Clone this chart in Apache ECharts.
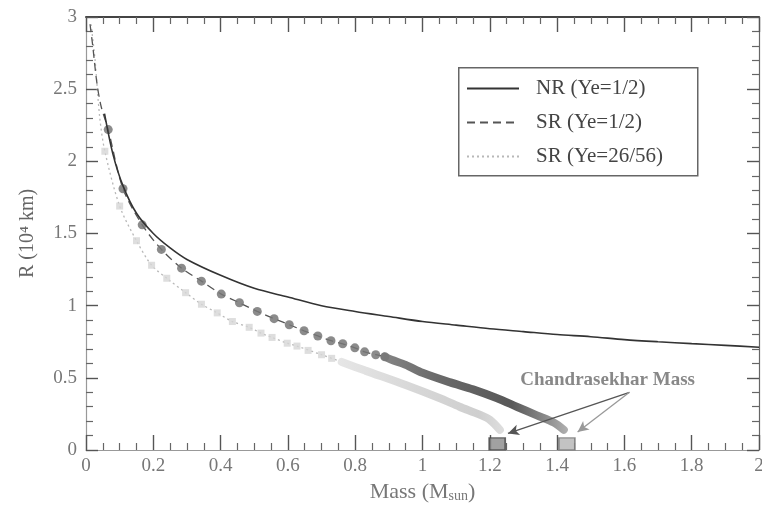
<!DOCTYPE html>
<html>
<head>
<meta charset="utf-8">
<script src="https://cdn.jsdelivr.net/npm/echarts@6/dist/echarts.min.js"></script>
<style>html,body{margin:0;padding:0;background:#fff}#c{width:762px;height:510px}</style>
</head>
<body>
<div id="c"></div>
<script>
// ---- data ----
var xTickLabels = ['0','0.2','0.4','0.6','0.8','1','1.2','1.4','1.6','1.8','2'];
var yTickLabels = ['0','0.5','1','1.5','2','2.5','3'];

var nrMass = [0.055,0.08,0.11,0.15,0.2,0.25,0.3,0.4,0.5,0.6,0.7,0.8,0.9,1.0,1.1,1.2,1.3,1.4,1.5,1.6,1.7,1.8,1.9,2.0];
var nrR    = [2.33,2.05,1.83,1.64,1.50,1.40,1.32,1.21,1.12,1.06,1.00,0.96,0.925,0.89,0.865,0.84,0.82,0.80,0.785,0.765,0.75,0.737,0.725,0.712];

var sr12Mass = [0.012,0.02,0.032,0.045,0.066,0.11,0.167,0.224,0.284,0.343,0.402,0.456,0.509,0.559,0.604,0.648,0.689,0.728,0.763,0.799,0.828,0.861,0.888,0.908,0.95,1.0,1.08,1.15,1.22,1.28,1.34,1.39,1.42];
var sr12R    = [2.95,2.8,2.55,2.38,2.22,1.81,1.56,1.39,1.26,1.17,1.08,1.02,0.96,0.91,0.868,0.826,0.79,0.757,0.736,0.708,0.68,0.66,0.646,0.625,0.59,0.535,0.47,0.42,0.36,0.30,0.24,0.19,0.14];
var sr12DotMass = [0.066,0.11,0.167,0.224,0.284,0.343,0.402,0.456,0.509,0.559,0.604,0.648,0.689,0.728,0.763,0.799,0.828,0.861,0.888];
var sr12DotR    = [2.22,1.81,1.56,1.39,1.26,1.17,1.08,1.02,0.96,0.91,0.868,0.826,0.79,0.757,0.736,0.708,0.68,0.66,0.646];
var sr12BandMass = [0.888,0.908,0.95,1.0,1.08,1.15,1.22,1.28,1.34,1.39,1.42];
var sr12BandR    = [0.646,0.625,0.59,0.535,0.47,0.42,0.36,0.30,0.24,0.19,0.14];

var sr26Mass = [0.015,0.027,0.041,0.056,0.10,0.15,0.195,0.24,0.296,0.343,0.39,0.435,0.485,0.52,0.553,0.598,0.627,0.70,0.76,0.83,0.95,1.05,1.11,1.17,1.20,1.23];
var sr26R    = [2.95,2.7,2.3,2.07,1.69,1.45,1.28,1.19,1.09,1.01,0.95,0.89,0.85,0.81,0.78,0.74,0.72,0.66,0.61,0.55,0.45,0.36,0.30,0.245,0.21,0.14];
var sr26DotMass = [0.056,0.10,0.15,0.195,0.24,0.296,0.343,0.39,0.435,0.485,0.52,0.553,0.598,0.627,0.66,0.70,0.73];
var sr26DotR    = [2.07,1.69,1.45,1.28,1.19,1.09,1.01,0.95,0.89,0.85,0.81,0.78,0.74,0.72,0.69,0.66,0.635];
var sr26BandMass = [0.76,0.83,0.95,1.05,1.11,1.17,1.20,1.23];
var sr26BandR    = [0.61,0.55,0.45,0.36,0.30,0.245,0.21,0.14];

var chMass = [1.222, 1.429];
var chR    = [0.042, 0.042];
var arrowFrom = [1.615, 0.40];
var arrowTo1  = [1.254, 0.115];
var arrowTo2  = [1.461, 0.125];
var noteAt    = [1.55, 0.486];

function zip(a, b) { return a.map(function (v, i) { return [v, b[i]]; }); }

var serif = 'Liberation Serif';
var chart = echarts.init(document.getElementById('c'), null, {renderer: 'canvas'});

// labelled axes (no ticks)
var xLabelAxis = {
  type: 'value', position: 'bottom', min: 0, max: 2, interval: 0.2,
  axisLine: {show: true, onZero: false, lineStyle: {color: '#999', width: 1.2}},
  axisTick: {show: false}, splitLine: {show: false},
  axisLabel: {show: true, margin: 7, color: '#777', fontFamily: serif, fontSize: 19,
    formatter: function (v) { return xTickLabels[Math.round(v / 0.2)]; }},
  name: 'Mass (M{sub|sun})', nameLocation: 'middle', nameGap: 27,
  nameTextStyle: {fontFamily: serif, fontSize: 22, color: '#777',
    rich: {sub: {fontFamily: serif, fontSize: 14, color: '#777', verticalAlign: 'bottom'}}}
};
var yLabelAxis = {
  type: 'value', position: 'left', min: 0, max: 3, interval: 0.5,
  axisLine: {show: true, onZero: false, lineStyle: {color: '#999', width: 1.2}},
  axisTick: {show: false}, splitLine: {show: false},
  axisLabel: {show: true, margin: 9, color: '#777', fontFamily: serif, fontSize: 19,
    formatter: function (v) { return yTickLabels[Math.round(v / 0.5)]; }},
  name: 'R (10\u2074 km)', nameLocation: 'middle', nameGap: 48,
  nameTextStyle: {fontFamily: serif, fontSize: 20, color: '#666'}
};
// tick-only axes
function xTickAxis(pos) {
  return {
    type: 'value', position: pos, min: 0, max: 2, interval: 0.2,
    axisLine: {show: pos === 'top', onZero: false, lineStyle: {color: '#444', width: 2}},
    axisTick: {show: true, inside: true, length: 15, lineStyle: {color: '#555', width: 1.4}},
    minorTick: {show: true, splitNumber: 4, length: 7, lineStyle: {color: '#666', width: 1.2}},
    splitLine: {show: false},
    axisLabel: {show: false}
  };
}
function yTickAxis(pos) {
  return {
    type: 'value', position: pos, min: 0, max: 3, interval: 0.5,
    axisLine: {show: pos === 'right', onZero: false, lineStyle: {color: '#666', width: 1.2}},
    axisTick: {show: true, inside: true, length: 12, lineStyle: {color: '#555', width: 1.4}},
    minorTick: {show: true, splitNumber: 5, length: 7, lineStyle: {color: '#666', width: 1.2}},
    splitLine: {show: false},
    axisLabel: {show: false}
  };
}

var option = {
  animation: false,
  backgroundColor: '#fff',
  grid: {left: 86, right: 3, top: 17, bottom: 60, outerBoundsMode: 'none'},
  xAxis: [xLabelAxis, xTickAxis('top'), xTickAxis('bottom')],
  yAxis: [yLabelAxis, yTickAxis('right'), yTickAxis('left')],
  legend: {
    orient: 'vertical', left: 466, top: 78, padding: 0, itemGap: 13,
    itemWidth: 52, itemHeight: 14,
    itemStyle: {opacity: 0},
    textStyle: {fontFamily: serif, fontSize: 21, color: '#444', padding: [0, 0, 0, 12]},
    data: ['NR (Ye=1/2)', 'SR (Ye=1/2)', 'SR (Ye=26/56)']
  },
  graphic: [{
    type: 'rect', left: 458, top: 67, silent: true,
    shape: {width: 239, height: 108},
    style: {fill: 'rgba(0,0,0,0)', stroke: '#666', lineWidth: 1.5}
  }],
  series: [
    {name: 'SR (Ye=26/56)', type: 'line', data: zip(sr26Mass, sr26R), symbol: 'none', smooth: 0.3,
      lineStyle: {color: '#b8b8b8', width: 1.3, type: [2, 3]}, itemStyle: {color: '#b8b8b8'}, z: 2},
    {name: 'sr26band', type: 'line', data: zip(sr26BandMass, sr26BandR), symbol: 'none', smooth: 0.3,
      lineStyle: {width: 8, cap: 'round', color: new echarts.graphic.LinearGradient(0, 0, 1, 0, [
        {offset: 0, color: '#e6e6e6'}, {offset: 0.5, color: '#d6d6d6'}, {offset: 0.85, color: '#cfcfcf'}, {offset: 1, color: '#dedede'}])}, z: 2},
    {name: 'sr26dots', type: 'scatter', data: zip(sr26DotMass, sr26DotR), symbol: 'rect', symbolSize: 7,
      itemStyle: {color: '#d6d6d6'}, z: 3},
    {name: 'SR (Ye=1/2)', type: 'line', data: zip(sr12Mass, sr12R), symbol: 'none', smooth: 0.3,
      lineStyle: {color: '#555', width: 1.3, type: [8, 5]}, itemStyle: {color: '#555'}, z: 4},
    {name: 'sr12band', type: 'line', data: zip(sr12BandMass, sr12BandR), symbol: 'none', smooth: 0.3,
      lineStyle: {width: 8, cap: 'round', color: new echarts.graphic.LinearGradient(0, 0, 1, 0, [
        {offset: 0, color: '#858585'}, {offset: 0.3, color: '#6a6a6a'}, {offset: 0.7, color: '#585858'}, {offset: 0.88, color: '#8a8a8a'}, {offset: 1, color: '#b0b0b0'}])}, z: 4},
    {name: 'sr12dots', type: 'scatter', data: zip(sr12DotMass, sr12DotR), symbol: 'circle', symbolSize: 9,
      itemStyle: {color: '#777', opacity: 0.85}, z: 5},
    {name: 'NR (Ye=1/2)', type: 'line', data: zip(nrMass, nrR), symbol: 'none', smooth: 0.3,
      lineStyle: {color: '#333', width: 1.6}, itemStyle: {color: '#333'}, z: 6},
    {name: 'chandra', type: 'scatter', data: [
        {value: [chMass[0], chR[0]], itemStyle: {color: '#8a8a8a', borderColor: '#444', borderWidth: 1.5}},
        {value: [chMass[1], chR[1]], itemStyle: {color: '#b4b4b4', borderColor: '#777', borderWidth: 1.5}}],
      symbol: 'rect', symbolSize: [16, 12], z: 7,
      markLine: {silent: true, symbol: ['none', 'arrow'], symbolSize: [8, 11], label: {show: false},
        data: [
          [{coord: arrowFrom, lineStyle: {color: '#555', width: 1.3, type: 'solid'}}, {coord: arrowTo1}],
          [{coord: arrowFrom, lineStyle: {color: '#999', width: 1.3, type: 'solid'}}, {coord: arrowTo2}]
        ]},
      markPoint: {silent: true, symbol: 'circle', symbolSize: 0,
        data: [{coord: noteAt, label: {show: true, position: 'inside', formatter: 'Chandrasekhar Mass',
          fontFamily: serif, fontWeight: 'bold', fontSize: 19, color: '#888'}}]}
    }
  ]
};
chart.setOption(option);
</script>
</body>
</html>
